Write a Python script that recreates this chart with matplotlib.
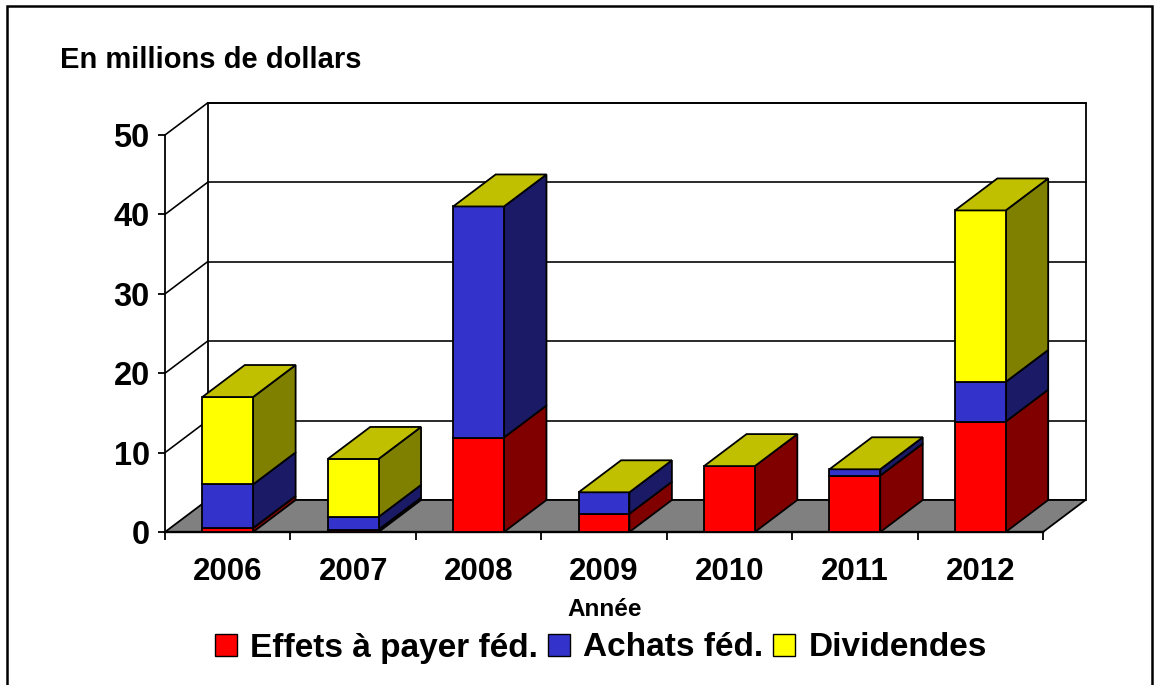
import matplotlib
matplotlib.use("Agg")
import matplotlib.pyplot as plt
from matplotlib.patches import Polygon, Patch, Rectangle
import numpy as np

plt.rcParams['font.family'] = ['Liberation Sans', 'DejaVu Sans']
plt.rcParams['font.weight'] = 'bold'

# ---- data ----
years = ["2006", "2007", "2008", "2009", "2010", "2011", "2012"]
effets = [0.5, 0.3, 11.9, 2.3, 8.3, 7.1, 13.9]
achats = [5.5, 1.6, 29.1, 2.7, 0.0, 0.8, 5.0]
dividendes = [11.0, 7.3, 0.0, 0.0, 0.0, 0.0, 21.6]
series_names = ["Effets à payer féd.", "Achats féd.", "Dividendes"]
yticks = [0, 10, 20, 30, 40, 50]

front_cols = ["#FF0000", "#3333CC", "#FFFF00"]
side_cols = ["#800000", "#1A1A66", "#808000"]
top_col = "#C0C000"
floor_col = "#808080"

W, H = 1159, 685
fig = plt.figure(figsize=(W / 100, H / 100), dpi=100)
ax = fig.add_axes([165 / W, (H - 532) / H, 878 / W, 397 / H])
n = len(years)
ax.set_xlim(-0.5, n - 0.5)
ax.set_ylim(0, 50)

px_x = 878 / n          # pixels per x unit
px_y = 397 / 50         # pixels per y unit
DX = 42.5 / px_x
DY = 32 / px_y
BW = 0.405
LW = 1.3

x0, x1 = -0.5, n - 0.5

# back wall + left wall + gridlines
ax.add_patch(Polygon([(x0 + DX, DY), (x1 + DX, DY), (x1 + DX, 50 + DY), (x0 + DX, 50 + DY)],
                     closed=True, facecolor="white", edgecolor="black", lw=LW, zorder=0.5, clip_on=False))
for v in yticks[1:]:
    ax.plot([x0 + DX, x1 + DX], [v + DY, v + DY], color="black", lw=LW * 0.9, zorder=0.6, clip_on=False)
    ax.plot([x0, x0 + DX], [v, v + DY], color="black", lw=LW * 0.9, zorder=0.6, clip_on=False)

# floor
ax.add_patch(Polygon([(x0, 0), (x1, 0), (x1 + DX, DY), (x0 + DX, DY)], closed=True,
                     facecolor=floor_col, edgecolor="black", lw=LW, zorder=0.7, clip_on=False))

# bars
data = [effets, achats, dividendes]
xs = np.arange(n)
bottoms = np.zeros(n)
tops = np.array(effets) + np.array(achats) + np.array(dividendes)
for si, vals in enumerate(data):
    vals = np.array(vals)
    for i in range(n):
        if vals[i] <= 0:
            continue
        y0 = bottoms[i]
        y1 = y0 + vals[i]
        xr = xs[i] + BW / 2
        ax.add_patch(Polygon([(xr, y0), (xr + DX, y0 + DY), (xr + DX, y1 + DY), (xr, y1)],
                             closed=True, facecolor=side_cols[si], edgecolor="black",
                             lw=LW, zorder=2, clip_on=False))
    ax.bar(xs, vals, bottom=bottoms, width=BW, color=front_cols[si],
           edgecolor=["black" if v > 0 else "none" for v in vals], linewidth=LW, zorder=2.1)
    bottoms = bottoms + vals

for i in range(n):
    xl = xs[i] - BW / 2
    xr = xs[i] + BW / 2
    t = tops[i]
    ax.add_patch(Polygon([(xl, t), (xr, t), (xr + DX, t + DY), (xl + DX, t + DY)],
                         closed=True, facecolor=top_col, edgecolor="black", lw=LW,
                         zorder=2.2, clip_on=False))

# axes styling
for s in ["top", "right"]:
    ax.spines[s].set_visible(False)
ax.spines["left"].set_linewidth(LW)
ax.spines["bottom"].set_linewidth(LW * 1.3)
ax.spines["left"].set_zorder(3)
ax.spines["bottom"].set_zorder(1.9)
ax.set_facecolor("none")
ax.set_yticks(yticks)
ax.set_yticklabels([str(v) for v in yticks], fontsize=23.5, fontweight="bold")
ax.tick_params(axis="y", length=5, width=LW, pad=6)
ax.set_xticks(xs)
ax.set_xticklabels(years, fontsize=22.5, fontweight="bold")
ax.tick_params(axis="x", which="major", length=0, pad=18)
ax.set_xticks(np.arange(n + 1) - 0.5, minor=True)
ax.tick_params(axis="x", which="minor", length=6, width=LW)

fig.text(60 / W, 1 - 68 / H, "En millions de dollars", fontsize=21, fontweight="bold",
         ha="left", va="baseline")
fig.text(605 / W, 1 - 609 / H, "Année", fontsize=17.5, fontweight="bold", ha="center", va="center")

handles = [Patch(facecolor=c, edgecolor="black", linewidth=1.0) for c in front_cols]
fig.legend(handles, series_names, ncol=3, loc="center", bbox_to_anchor=(601 / W, 1 - 648 / H),
           frameon=False, prop={"size": 24, "weight": "bold"}, handlelength=0.65, handleheight=0.65,
           handletextpad=0.4, columnspacing=0.3, borderaxespad=0, borderpad=0)

# outer border
fig.patches.append(Rectangle((7 / W, -0.05), (1152 - 7) / W, 1.05 - 6 / H, transform=fig.transFigure,
                             fill=False, edgecolor="black", lw=1.8))

fig.savefig("out.png", dpi=100)
